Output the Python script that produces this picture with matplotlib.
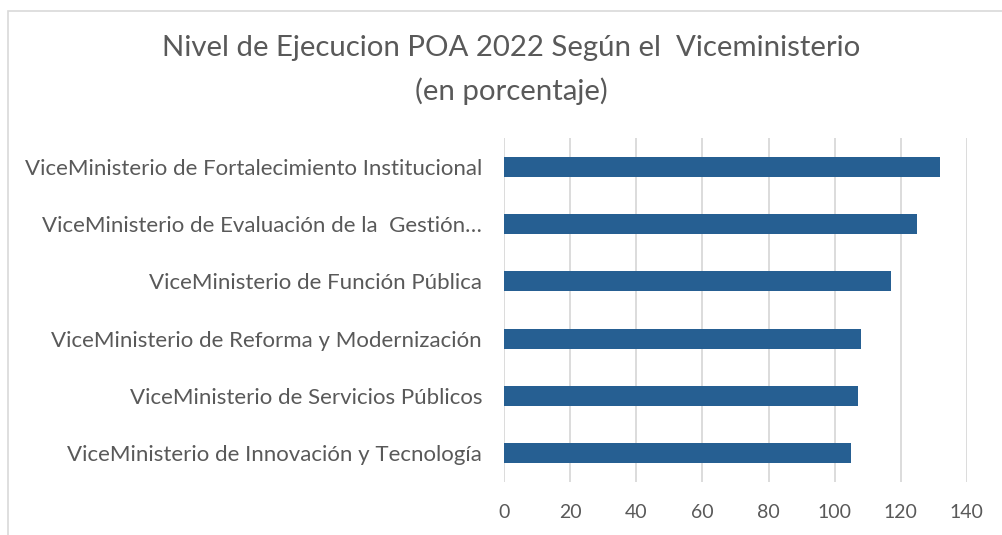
import matplotlib.pyplot as plt
from matplotlib.patches import Rectangle

plt.rcParams['font.family'] = ['Lato', 'DejaVu Sans']

categorias = [
    "ViceMinisterio de Fortalecimiento Institucional",
    "ViceMinisterio de Evaluación de la  Gestión…",
    "ViceMinisterio de Función Pública",
    "ViceMinisterio de Reforma y Modernización",
    "ViceMinisterio de Servicios Públicos",
    "ViceMinisterio de Innovación y Tecnología",
]
valores = [132, 125, 117, 108, 107, 105]
ticks_x = [0, 20, 40, 60, 80, 100, 120, 140]

gris = "#595959"

fig = plt.figure(figsize=(10.03, 5.35), dpi=100)
ax = fig.add_axes([0.5028, 0.0991, 0.461, 0.643])

# marco del grafico (recortado a la derecha y abajo)
fig.patches.append(Rectangle((8 / 1003, -0.1), 1.2, (535 - 11) / 535 + 0.1,
                             transform=fig.transFigure, fill=False,
                             edgecolor="#d9d9d9", linewidth=1.2))

pos = range(len(categorias))
ax.barh(pos, valores, height=0.35, color="#265f92", zorder=3)

ax.set_xlim(0, 140)
ax.set_ylim(len(categorias) - 0.5, -0.5)
ax.set_xticks(ticks_x)
ax.set_yticks(list(pos))
ax.set_yticklabels(categorias)
ax.grid(axis="x", color="#d9d9d9", linewidth=1.3, zorder=0)
for s in ax.spines.values():
    s.set_visible(False)
ax.tick_params(axis="both", length=0, labelcolor=gris)
ax.tick_params(axis="y", pad=16, labelsize=16)
ax.tick_params(axis="x", pad=16, labelsize=14)

fig.text(0.51, 0.91, "Nivel de Ejecucion POA 2022 Según el  Viceministerio",
         ha="center", va="center", fontsize=21.2, color=gris)
fig.text(0.51, 0.83, "(en porcentaje)", ha="center", va="center",
         fontsize=21.2, color=gris)

fig.savefig("out.png", dpi=100)
